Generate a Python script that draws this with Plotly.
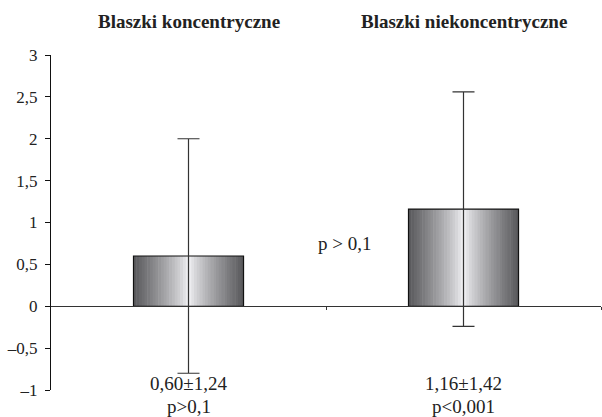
import plotly.graph_objects as go

# ---- data ----
categories = ["Blaszki koncentryczne", "Blaszki niekoncentryczne"]
means = [0.60, 1.16]
error_bars = [1.4, 1.4]
stat_labels = ["0,60\u00b11,24", "1,16\u00b11,42"]
p_labels = ["p>0,1", "p<0,001"]
between_label = "p > 0,1"
y_tickvals = [-1, -0.5, 0, 0.5, 1, 1.5, 2, 2.5, 3]
y_ticktext = ["\u20131", "\u20130,5", "0", "0,5", "1", "1,5", "2", "2,5", "3"]

x_pos = list(range(len(categories)))
FONT = "Liberation Serif, Times New Roman, serif"
TXT = "#222222"

fig = go.Figure()

# gradient bars via thin overlaid slices
bar_w = 0.4
n_slices = 40
dark, light = 88, 244
for i in range(n_slices):
    t = (i + 0.5) / n_slices
    d = abs(t - 0.5) * 2
    v = light - (light - dark) * (d ** 0.8)
    c = int(round(v))
    col = f"rgb({c},{c},{min(c+3,255)})"
    fig.add_trace(go.Bar(
        x=x_pos, y=means,
        width=bar_w / n_slices + 0.002,
        offset=-bar_w / 2 + i * bar_w / n_slices,
        marker=dict(color=col, line=dict(width=0)),
        showlegend=False, hoverinfo="skip",
    ))

# outline
fig.add_trace(go.Bar(
    x=x_pos, y=means, width=bar_w,
    marker=dict(color="rgba(0,0,0,0)", line=dict(color="#111111", width=1.2)),
    showlegend=False, hoverinfo="skip",
))

# error bars
fig.add_trace(go.Scatter(
    x=x_pos, y=means, mode="markers",
    marker=dict(size=1, color="rgba(0,0,0,0)"),
    error_y=dict(type="data", array=error_bars, visible=True,
                 color="#333333", thickness=1.2, width=11),
    showlegend=False, hoverinfo="skip",
))

yr = [-1, 3]
zero_pos = (0 - yr[0]) / (yr[1] - yr[0])

fig.update_layout(
    width=602, height=417,
    margin=dict(l=51, r=1, t=55, b=27),
    paper_bgcolor="white", plot_bgcolor="white",
    barmode="overlay",
    font=dict(family=FONT, color=TXT, size=17),
    xaxis=dict(
        range=[-0.5, 1.5], anchor="free", position=zero_pos,
        showgrid=False, zeroline=False,
        showline=True, linecolor="#333333", linewidth=1.2,
        tickvals=[0.5, 1.5], ticktext=["", ""],
        ticks="outside", ticklen=3, tickcolor="#333333", tickwidth=1,
    ),
    yaxis=dict(
        range=yr, showgrid=False, zeroline=False,
        showline=True, linecolor="#111111", linewidth=1.2,
        tickvals=y_tickvals, ticktext=y_ticktext,
        ticks="outside", ticklen=5, tickcolor="#111111", tickwidth=1,
        ticklabelstandoff=4,
        tickfont=dict(family=FONT, size=17, color=TXT),
    ),
)

# titles above plot
for xi, cat in zip(x_pos, categories):
    fig.add_annotation(x=xi, xref="x", y=(390 - 22) / 335, yref="paper",
                       text=f"<b>{cat}</b>", showarrow=False,
                       font=dict(family=FONT, size=19, color=TXT),
                       xanchor="center", yanchor="middle")

for xi, s, p in zip(x_pos, stat_labels, p_labels):
    fig.add_annotation(x=xi, xref="x", y=(390 - 383) / 335, yref="paper",
                       text=s, showarrow=False,
                       font=dict(family=FONT, size=19, color=TXT),
                       xanchor="center", yanchor="middle")
    fig.add_annotation(x=xi, xref="x", y=(390 - 406) / 335, yref="paper",
                       text=p, showarrow=False,
                       font=dict(family=FONT, size=19, color=TXT),
                       xanchor="center", yanchor="middle")

fig.add_annotation(x=0.567, xref="x", y=0.75, yref="y",
                   text=between_label, showarrow=False,
                   font=dict(family=FONT, size=19, color=TXT),
                   xanchor="center", yanchor="middle")

fig.write_html("out.html")
